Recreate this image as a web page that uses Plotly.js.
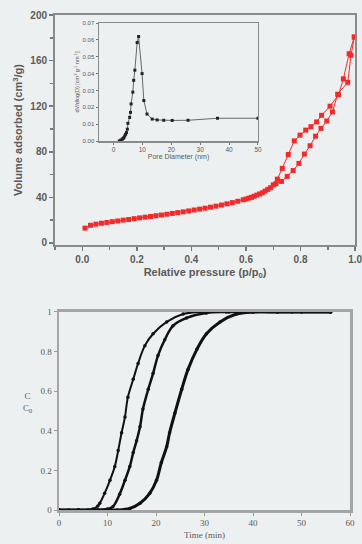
<!DOCTYPE html>
<html><head><meta charset="utf-8">
<script src="https://cdn.plot.ly/plotly-3.0.1.min.js"></script>
<style>html,body{margin:0;padding:0;background:#edf0f1;}#c{width:362px;height:544px;}</style>
</head><body><div id="c"></div>
<script>
// Isotherm – adsorption branch
const adsP = [0.01,0.03,0.05,0.07,0.09,0.11,0.13,0.15,0.17,0.19,0.21,0.23,0.25,0.27,0.29,0.31,0.33,0.35,0.37,0.39,0.41,0.43,0.45,0.47,0.49,0.51,0.53,0.55,0.57,0.59,0.61,0.63,0.65,0.67,0.69,0.71,0.73,0.751,0.773,0.794,0.814,0.835,0.855,0.875,0.896,0.917,0.936,0.973,0.985,0.997];
const adsV = [13,15.5,16.5,17.3,18,18.7,19.3,20,20.6,21.3,22,22.6,23.2,23.9,24.5,25.2,25.9,26.6,27.3,28.1,28.9,29.7,30.5,31.4,32.3,33.3,34.3,35.4,36.6,37.9,39.3,41,43,45.5,48.5,52,54,58.4,63.6,69.8,78,85.3,93.7,100.5,107,115,130.5,141,164.7,180.7];
// Isotherm – desorption branch
const desP = [0.997,0.978,0.957,0.939,0.908,0.877,0.859,0.838,0.819,0.798,0.777,0.755,0.733,0.715,0.70,0.68,0.66,0.64,0.62,0.60];
const desV = [180.7,166,144,130,120,112,106.2,102,99,94.6,89.6,77.6,65.4,56,51,47,44,42,40,38.5];
// Inset pore size distribution
const poreD = [2,2.5,3,3.3,3.6,3.9,4.2,4.5,4.8,5.0,5.6,5.9,6.1,6.7,7.0,7.4,8.2,8.7,9.9,10.5,11.6,13.4,15.1,17.4,20.3,25.8,36.0,50];
const poreV = [0,0.0005,0.001,0.0015,0.002,0.003,0.004,0.005,0.007,0.0105,0.014,0.017,0.022,0.029,0.036,0.042,0.0584,0.062,0.040,0.024,0.016,0.013,0.0125,0.0123,0.0122,0.0123,0.0135,0.0135];
// Breakthrough curves
const t1 = [0,2,4,6,7,8,8.4,9.4,10.5,11.5,12.2,12.9,13.6,14.2,15.3,16.3,17.7,19.4,22.2,25.6,29,35,45,56];
const c1 = [0,0,0,0,0.005,0.02,0.034,0.084,0.15,0.22,0.30,0.39,0.47,0.57,0.66,0.74,0.83,0.89,0.95,0.99,1,1,1,1];
const t2 = [0,4,8,10,11.1,12.5,13.6,14.6,15.3,16,16.7,17.3,18.4,19.4,20.4,21.8,23.5,26.3,30.4,34.5,40,48,56];
const c2 = [0,0,0,0.005,0.017,0.08,0.15,0.22,0.29,0.35,0.42,0.51,0.61,0.69,0.78,0.86,0.93,0.97,0.995,1,1,1,1];
const t3 = [0,4,8,12,14.6,16.7,18.7,20.1,21.1,22.2,22.8,23.9,25.3,26.6,28.4,30.4,33.2,36.6,40,45,50,56];
const c3 = [0,0,0,0,0.008,0.034,0.084,0.15,0.24,0.32,0.39,0.49,0.61,0.71,0.81,0.89,0.95,0.99,1,1,1,1];

const red = '#f22a2a';
const sans = 'Liberation Sans, Arial, sans-serif';
const serif = 'Liberation Serif, Times New Roman, serif';
const grey = '#5a5a5a';

const traces = [
  {x: adsP, y: adsV, xaxis:'x', yaxis:'y', mode:'lines+markers', line:{color:red,width:1}, marker:{symbol:'square',size:5,color:red}},
  {x: desP, y: desV, xaxis:'x', yaxis:'y', mode:'lines+markers', line:{color:red,width:1}, marker:{symbol:'square',size:5,color:red}},
  {x: poreD, y: poreV, xaxis:'x2', yaxis:'y2', mode:'lines+markers', line:{color:'#444',width:0.8}, marker:{symbol:'square',size:3,color:'#222'}},
  {x: t1, y: c1, xaxis:'x3', yaxis:'y3', mode:'lines+markers', line:{color:'#111',width:2,shape:'spline'}, marker:{symbol:'circle',size:3.5,color:'#111'}},
  {x: t2, y: c2, xaxis:'x3', yaxis:'y3', mode:'lines+markers', line:{color:'#111',width:2.5,shape:'spline'}, marker:{symbol:'circle',size:3.5,color:'#111'}},
  {x: t3, y: c3, xaxis:'x3', yaxis:'y3', mode:'lines+markers', line:{color:'#111',width:3,shape:'spline'}, marker:{symbol:'circle',size:3.5,color:'#111'}}
];

const topAx = {showline:true, linecolor:'#8a8a8a', linewidth:2, mirror:true, showgrid:false, zeroline:false,
  ticks:'outside', ticklen:4, tickcolor:'#777', tickwidth:1.5, ticklabeloverflow:'allow',
  tickfont:{family:sans, size:10, color:grey, weight:'bold'}};

const layout = {
  width:362, height:544, margin:{l:0,r:0,t:0,b:0},
  paper_bgcolor:'#edf0f1', plot_bgcolor:'#edf0f1', showlegend:false,
  xaxis: Object.assign({}, topAx, {domain:[0.152,0.981], anchor:'y', range:[-0.1,1.0], tickvals:[0,0.2,0.4,0.6,0.8,1.0], ticktext:['0.0','0.2','0.4','0.6','0.8','1.0'],
    minor:{dtick:0.1, ticklen:3, tickcolor:'#777', ticks:'outside'},
    title:{text:'Relative pressure (p/p<sub>0</sub>)', font:{family:sans,size:11,color:grey,weight:'bold'}, standoff:4}}),
  yaxis: Object.assign({}, topAx, {domain:[0.5496,0.9724], anchor:'x', range:[-1.8,200], tickvals:[0,40,80,120,160,200],
    minor:{dtick:20, ticklen:3, tickcolor:'#777', ticks:'outside'},
    title:{text:'Volume adsorbed (cm<sup>3</sup>/g)', font:{family:sans,size:11,color:grey,weight:'bold'}, standoff:5}}),
  xaxis2: {domain:[0.2735,0.7127], anchor:'y2', range:[-5,50], showline:true, linecolor:'#8a8a8a', linewidth:1.5, mirror:true,
    showgrid:false, zeroline:false, ticks:'outside', ticklen:2, tickcolor:'#777', tickvals:[0,10,20,30,40,50],
    tickfont:{family:sans,size:6.5,color:grey},
    title:{text:'Pore Diameter (nm)', font:{family:sans,size:7,color:grey}, standoff:2}},
  yaxis2: {domain:[0.7408,0.9577], anchor:'x2', range:[0,0.07], showline:true, linecolor:'#8a8a8a', linewidth:1.5, mirror:true,
    showgrid:false, zeroline:false, ticks:'outside', ticklen:2, tickcolor:'#777', tickvals:[0,0.01,0.02,0.03,0.04,0.05,0.06,0.07],
    ticktext:['0.00','0.01','0.02','0.03','0.04','0.05','0.06','0.07'],
    tickfont:{family:sans,size:6,color:grey},
    title:{text:'dV/dlog(D) [cm<sup>3</sup> g<sup>-1</sup> nm<sup>-1</sup>]', font:{family:sans,size:5.5,color:grey}, standoff:2}},
  xaxis3: {domain:[0.163,0.967], anchor:'y3', range:[0,60], showline:true, linecolor:'#a5a5a5', linewidth:2.5, mirror:true,
    showgrid:false, zeroline:false, ticks:'outside', ticklen:3, tickcolor:'#999', tickvals:[0,10,20,30,40,50,60],
    tickfont:{family:serif,size:9,color:grey}, ticklabeloverflow:'allow',
    title:{text:'Time (min)', font:{family:serif,size:9,color:grey}, standoff:5}},
  yaxis3: {domain:[0.0625,0.4265], anchor:'x3', range:[0,1], showline:true, linecolor:'#a5a5a5', linewidth:2.5, mirror:true,
    showgrid:false, zeroline:false, ticks:'outside', ticklen:3, tickcolor:'#999', tickvals:[0,0.2,0.4,0.6,0.8,1],
    ticktext:['0','0.2','0.4','0.6','0.8','1'],
    tickfont:{family:serif,size:9,color:grey}},
  annotations:[
    {xref:'paper', yref:'paper', x:27/362, y:1-402/544, text:'C<br>C<sub>0</sub>', showarrow:false,
     font:{family:serif,size:9,color:grey}, xanchor:'center', yanchor:'middle'}
  ]
};

Plotly.newPlot('c', traces, layout, {displayModeBar:false, staticPlot:true});
</script></body></html>
